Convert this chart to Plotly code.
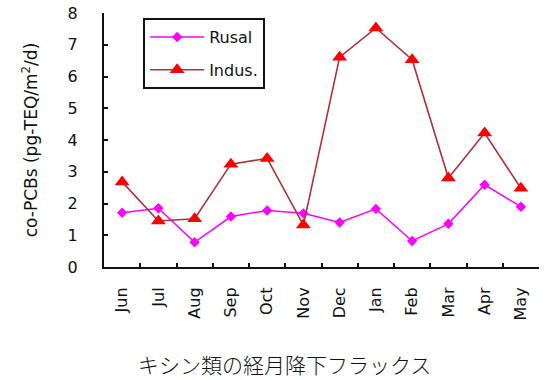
import plotly.graph_objects as go

months = ["Jun", "Jul", "Aug", "Sep", "Oct", "Nov", "Dec", "Jan", "Feb", "Mar", "Apr", "May"]
rusal = [1.71, 1.85, 0.78, 1.59, 1.78, 1.69, 1.40, 1.83, 0.82, 1.36, 2.59, 1.90]
indus = [2.68, 1.45, 1.52, 3.24, 3.42, 1.32, 6.61, 7.53, 6.53, 2.80, 4.22, 2.48]

y_title = "co-PCBs (pg-TEQ/m<sup>2</sup>/d)"
caption = "キシン類の経月降下フラックス"

ink = "#111111"
sans = "DejaVu Sans"

fig = go.Figure()
fig.add_trace(go.Scatter(
    x=months, y=rusal, name="Rusal", mode="lines+markers",
    line=dict(color="#ff00ff", width=1.5),
    marker=dict(symbol="diamond", size=8, color="#ff00ff"),
    legendgroup="a",
))
fig.add_trace(go.Scatter(
    x=months, y=indus, name="Indus.", mode="lines+markers",
    line=dict(color="#b0303a", width=1.6),
    marker=dict(symbol="triangle-up", size=13, color="#ff0000"),
    legendgroup="b",
))

fig.update_layout(
    width=557, height=380,
    margin=dict(l=104, r=18, t=13, b=113, autoexpand=False),
    paper_bgcolor="white", plot_bgcolor="white",
    font=dict(family=sans, size=15, color=ink),
    showlegend=True,
    legend=dict(
        x=0.09, y=0.98, xanchor="left", yanchor="top",
        bgcolor="white", bordercolor=ink, borderwidth=2,
        font=dict(family=sans, size=16, color=ink),
        tracegroupgap=9, itemwidth=54,
    ),
    xaxis=dict(
        type="category", range=[-0.5, 11.5],
        showline=True, linecolor=ink, linewidth=2,
        ticks="inside", ticklen=4, tickwidth=1.5, tickcolor=ink,
        tickson="boundaries", tickangle=-90,
        ticklabelstandoff=12,
        showgrid=False, zeroline=False,
        tickfont=dict(family=sans, size=16),
    ),
    yaxis=dict(
        range=[0, 8], dtick=1,
        showline=True, linecolor=ink, linewidth=2,
        ticks="inside", ticklen=4, tickwidth=1.5, tickcolor=ink,
        ticklabelstandoff=21,
        showgrid=False, zeroline=False,
        tickfont=dict(family=sans, size=16),
        title=dict(text=y_title, standoff=26,
                   font=dict(family=sans, size=17)),
    ),
    annotations=[dict(
        text=caption, xref="paper", yref="paper",
        x=0.414, y=-0.38, xanchor="center", yanchor="middle",
        showarrow=False,
        font=dict(family="Noto Sans CJK JP", size=21, color=ink, weight=300),
    )],
)

fig.write_html("out.html")
